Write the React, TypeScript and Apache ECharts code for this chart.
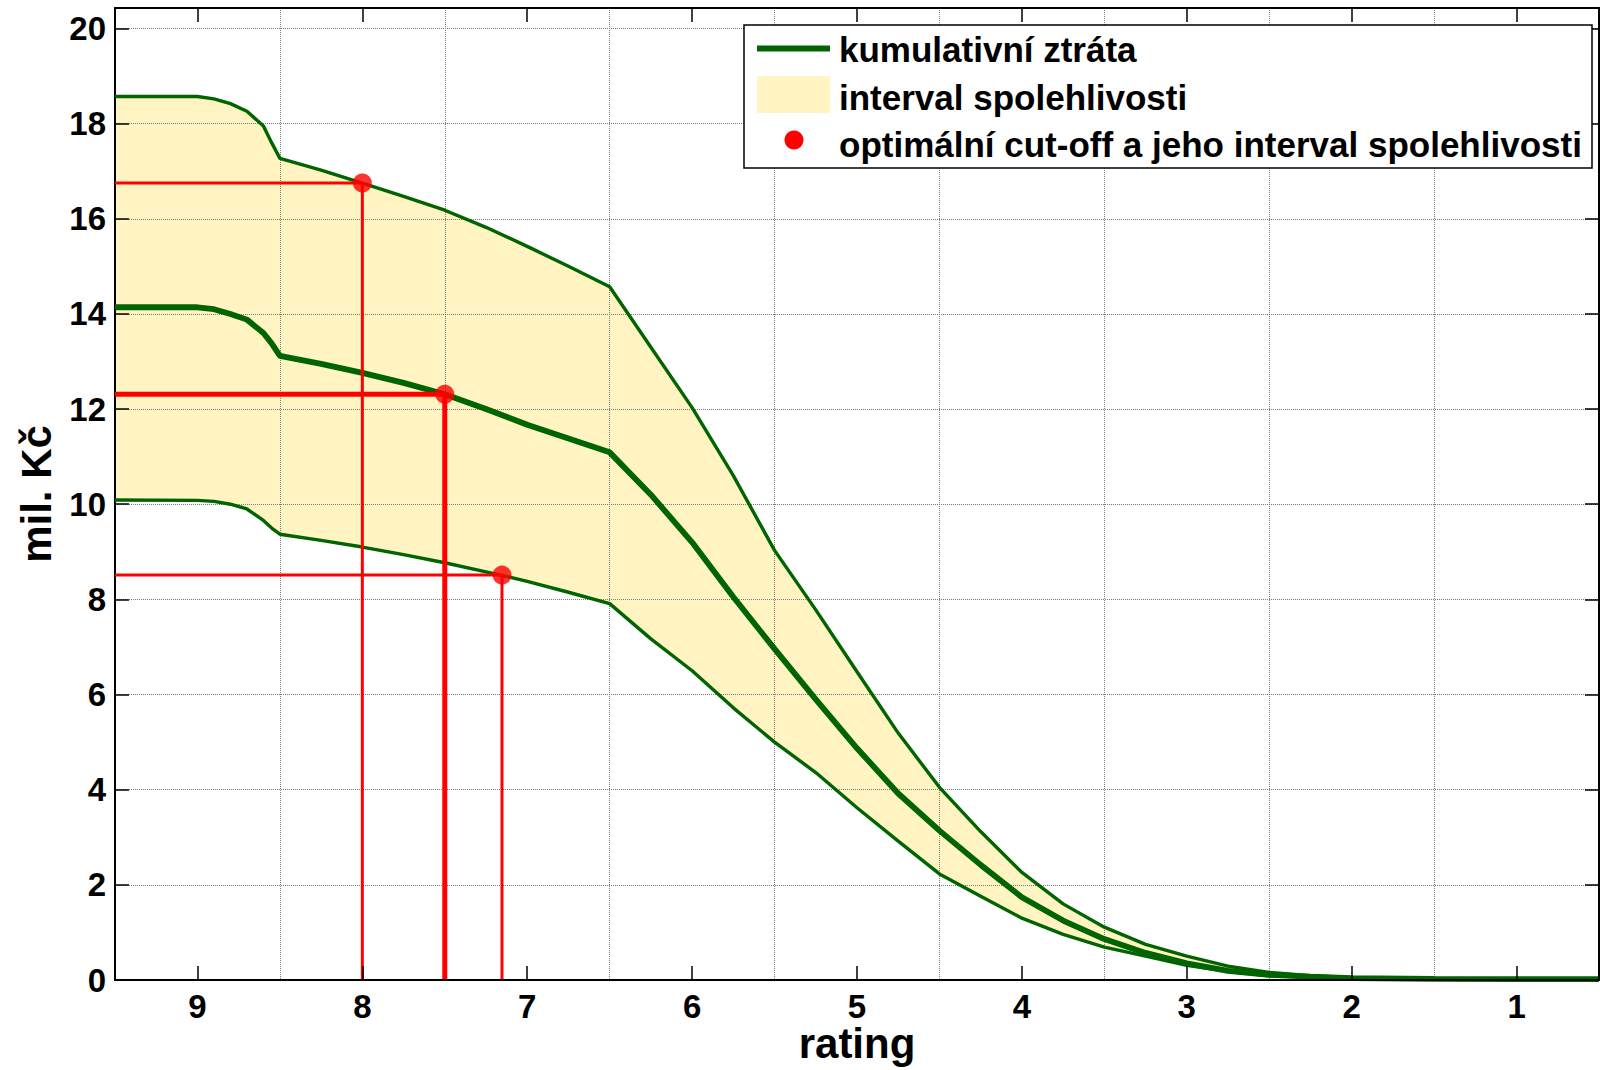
import React, { useEffect, useRef } from "react";
import * as echarts from "echarts";

// ---- data ----
const ratings = [9.5, 9.0, 8.9, 8.8, 8.7, 8.6, 8.55, 8.5, 8.25, 8.0, 7.75, 7.5, 7.25, 7.0, 6.75, 6.5, 6.25, 6.0, 5.75, 5.5, 5.25, 5.0, 4.75, 4.5, 4.25, 4.0, 3.75, 3.5, 3.25, 3.0, 2.75, 2.5, 2.25, 2.0, 1.5, 1.0, 0.5];
const upperBound = [18.57, 18.57, 18.52, 18.42, 18.26, 17.95, 17.6, 17.27, 17.02, 16.75, 16.47, 16.18, 15.82, 15.42, 15.0, 14.57, 13.3, 12.03, 10.6, 9.03, 7.78, 6.48, 5.19, 4.05, 3.12, 2.26, 1.6, 1.11, 0.75, 0.5, 0.29, 0.16, 0.09, 0.05, 0.03, 0.02, 0.02];
const cumulativeLoss = [14.14, 14.14, 14.1, 14.0, 13.88, 13.6, 13.38, 13.12, 12.95, 12.76, 12.55, 12.31, 12.0, 11.67, 11.38, 11.09, 10.2, 9.2, 8.05, 6.96, 5.9, 4.87, 3.92, 3.14, 2.42, 1.74, 1.25, 0.86, 0.57, 0.35, 0.19, 0.11, 0.07, 0.04, 0.025, 0.02, 0.02];
const lowerBound = [10.09, 10.08, 10.06, 10.0, 9.9, 9.66, 9.5, 9.37, 9.24, 9.1, 8.94, 8.77, 8.58, 8.38, 8.15, 7.91, 7.17, 6.5, 5.72, 5.0, 4.36, 3.62, 2.92, 2.23, 1.76, 1.3, 0.96, 0.69, 0.5, 0.31, 0.18, 0.09, 0.06, 0.035, 0.02, 0.02, 0.02];

const cutoffRatings = [8.0, 7.5, 7.153];
const cutoffValues = [16.75, 12.31, 8.51];
const cutoffWidths = [3, 5, 3];

const xTickLabels = [1, 2, 3, 4, 5, 6, 7, 8, 9];
const yTickLabels = [0, 2, 4, 6, 8, 10, 12, 14, 16, 18, 20];

const xName = "rating";
const yName = "mil. Kč";
const legendLabels = [
  "kumulativní ztráta",
  "interval spolehlivosti",
  "optimální cut-off a jeho interval spolehlivosti",
];

const GREEN = "#006400";
const RED = "#ff0000";
const FILL = "#fff4c2";
const FONT = '"Liberation Sans", Arial, Helvetica, sans-serif';

export default function App() {
  const ref = useRef<HTMLDivElement>(null);

  useEffect(() => {
    document.body.style.margin = "0";
    const chart = echarts.init(ref.current!, null, { renderer: "svg" });

    const X_MIN = 0.5;
    const X_MAX = 9.5;
    const Y_MAX = 20.43;

    const pts = (vals: number[]) => ratings.map((r, i) => [r, vals[i]]);

    const redLines = cutoffRatings.map((r, i) => ({
      type: "line",
      xAxisIndex: 0,
      yAxisIndex: 0,
      data: [
        [X_MAX, cutoffValues[i]],
        [r, cutoffValues[i]],
        [r, 0],
      ],
      symbol: "none",
      lineStyle: { color: RED, width: cutoffWidths[i] },
      z: 4,
      silent: true,
    }));

    const tickStyle = { color: "#000", width: 1.5 };
    const axisLineStyle = { color: "#000", width: 2 };
    const gridLineStyle = { color: "#7a7a7a", width: 1, type: [1, 1] };

    const option: any = {
      animation: false,
      backgroundColor: "#ffffff",
      grid: {
        left: 115,
        right: 1,
        top: 8,
        bottom: 90,
        containLabel: false,
        outerBoundsMode: "none",
      },
      xAxis: [
        {
          type: "value",
          position: "bottom",
          min: X_MIN,
          max: X_MAX,
          inverse: true,
          axisLine: { show: true, onZero: false, lineStyle: axisLineStyle },
          axisTick: { show: true, inside: true, length: 14, lineStyle: tickStyle, customValues: xTickLabels },
          axisLabel: {
            show: true,
            customValues: xTickLabels,
            margin: 10,
            color: "#000",
            fontFamily: FONT,
            fontWeight: "bold",
            fontSize: 33,
          },
          splitLine: { show: false },
          name: xName,
          nameLocation: "middle",
          nameGap: 42,
          nameMoveOverlap: false,
          nameTextStyle: { color: "#000", fontFamily: FONT, fontWeight: "bold", fontSize: 42 },
          z: 5,
        },
        {
          // grid lines at half ratings (value v corresponds to rating v + 0.5)
          type: "value",
          position: "bottom",
          min: 0,
          max: 9,
          interval: 1,
          inverse: true,
          axisLine: { show: false },
          axisTick: { show: false },
          axisLabel: { show: false },
          splitLine: { show: true, lineStyle: gridLineStyle },
          z: 2,
        },
        {
          type: "value",
          position: "top",
          min: X_MIN,
          max: X_MAX,
          inverse: true,
          axisLine: { show: true, onZero: false, lineStyle: axisLineStyle },
          axisTick: { show: true, inside: true, length: 14, lineStyle: tickStyle, customValues: xTickLabels },
          axisLabel: { show: false },
          splitLine: { show: false },
          z: 5,
        },
      ],
      yAxis: [
        {
          type: "value",
          position: "left",
          min: 0,
          max: Y_MAX,
          interval: 2,
          axisLine: { show: true, onZero: false, lineStyle: axisLineStyle },
          axisTick: { show: true, inside: true, length: 14, lineStyle: tickStyle, customValues: yTickLabels },
          axisLabel: {
            show: true,
            customValues: yTickLabels,
            margin: 9,
            color: "#000",
            fontFamily: FONT,
            fontWeight: "bold",
            fontSize: 33,
          },
          splitLine: { show: true, lineStyle: gridLineStyle },
          name: yName,
          nameLocation: "middle",
          nameGap: 58,
          nameTextStyle: { color: "#000", fontFamily: FONT, fontWeight: "bold", fontSize: 42 },
          z: 2,
        },
        {
          type: "value",
          position: "right",
          min: 0,
          max: Y_MAX,
          axisLine: { show: true, onZero: false, lineStyle: axisLineStyle },
          axisTick: { show: true, inside: true, length: 14, lineStyle: tickStyle, customValues: yTickLabels },
          axisLabel: { show: false },
          splitLine: { show: false },
          z: 5,
        },
      ],
      series: [
        {
          // confidence band: yellow area under the upper bound ...
          type: "line",
          name: legendLabels[1],
          xAxisIndex: 0,
          yAxisIndex: 0,
          data: pts(upperBound),
          symbol: "none",
          lineStyle: { opacity: 0 },
          areaStyle: { color: FILL, opacity: 1 },
          z: 1,
          silent: true,
        },
        {
          // ... cleared below the lower bound (grid lines are drawn above)
          type: "line",
          name: "bandMask",
          xAxisIndex: 0,
          yAxisIndex: 0,
          data: pts(lowerBound),
          symbol: "none",
          lineStyle: { opacity: 0 },
          areaStyle: { color: "#ffffff", opacity: 1 },
          z: 1,
          silent: true,
        },
        {
          type: "line",
          name: "upper",
          xAxisIndex: 0,
          yAxisIndex: 0,
          data: pts(upperBound),
          symbol: "none",
          lineStyle: { color: GREEN, width: 3.4 },
          z: 3,
          silent: true,
        },
        {
          type: "line",
          name: "lower",
          xAxisIndex: 0,
          yAxisIndex: 0,
          data: pts(lowerBound),
          symbol: "none",
          lineStyle: { color: GREEN, width: 3.4 },
          z: 3,
          silent: true,
        },
        {
          type: "line",
          name: legendLabels[0],
          xAxisIndex: 0,
          yAxisIndex: 0,
          data: pts(cumulativeLoss),
          symbol: "none",
          lineStyle: { color: GREEN, width: 5.8 },
          z: 3,
          silent: true,
        },
        ...redLines,
        {
          type: "scatter",
          name: legendLabels[2],
          xAxisIndex: 0,
          yAxisIndex: 0,
          data: cutoffRatings.map((r, i) => [r, cutoffValues[i]]),
          symbol: "circle",
          symbolSize: 19,
          itemStyle: { color: RED },
          z: 5,
          silent: true,
        },
      ],
      graphic: [
        {
          type: "group",
          z: 100,
          children: [
            {
              type: "rect",
              shape: { x: 744, y: 25, width: 848, height: 143 },
              style: { fill: "#ffffff", stroke: "#000", lineWidth: 1.5 },
              z: 100,
            },
            {
              type: "line",
              shape: { x1: 757, y1: 48.5, x2: 830, y2: 48.5 },
              style: { stroke: GREEN, lineWidth: 6 },
              z: 101,
            },
            {
              type: "rect",
              shape: { x: 757, y: 76, width: 73, height: 37 },
              style: { fill: FILL },
              z: 101,
            },
            {
              type: "circle",
              shape: { cx: 794, cy: 140, r: 9.5 },
              style: { fill: RED },
              z: 101,
            },
            ...legendLabels.map((t, i) => ({
              type: "text",
              x: 839,
              y: [49.5, 97.5, 144][i],
              style: {
                text: t,
                fill: "#000",
                font: `bold 35px ${FONT}`,
                verticalAlign: "middle",
                align: "left",
              },
              z: 101,
            })),
          ],
        },
      ],
    };

    chart.setOption(option);
    return () => chart.dispose();
  }, []);

  return (
    <div
      ref={ref}
      style={{ position: "fixed", left: 0, top: 0, width: 1600, height: 1070 }}
    />
  );
}
